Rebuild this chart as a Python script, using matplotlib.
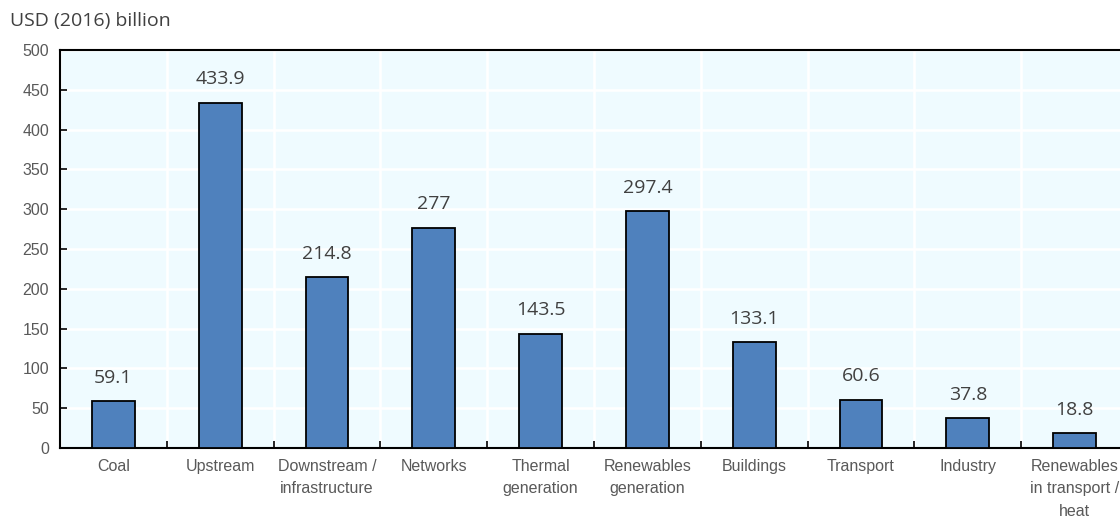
import numpy as np
import matplotlib.pyplot as plt
from matplotlib import font_manager

categories = ["Coal", "Upstream", "Downstream /\ninfrastructure", "Networks",
              "Thermal\ngeneration", "Renewables\ngeneration", "Buildings",
              "Transport", "Industry", "Renewables\nin transport /\nheat"]
values = [59.1, 433.9, 214.8, 277, 143.5, 297.4, 133.1, 60.6, 37.8, 18.8]
value_labels = ["59.1", "433.9", "214.8", "277", "143.5", "297.4", "133.1", "60.6", "37.8", "18.8"]

names = {f.name for f in font_manager.fontManager.ttflist}
narrow = "Liberation Sans Narrow" if "Liberation Sans Narrow" in names else "Liberation Sans"

fig = plt.figure(figsize=(11.2, 5.17), dpi=100)
# axes runs a little past the right edge, like the original
ax = fig.add_axes([60/1120, (517-448)/517, 1068/1120, 398/517])
ax.set_facecolor("#EFFBFF")

x = np.arange(len(categories))
ax.bar(x, values, width=0.4, color="#4F81BD", edgecolor="black", linewidth=1.3, zorder=3)

for xi, v, lab in zip(x, values, value_labels):
    ax.text(xi, v + 18, lab, ha="center", va="bottom", fontsize=14,
            color="#404040", family="Open Sans", zorder=4)

ax.set_xlim(-0.5, len(categories) - 0.5)
ax.set_ylim(0, 500)
ax.set_yticks(range(0, 501, 50))
ax.tick_params(axis="y", direction="in", length=5, width=1.2, labelsize=11.5,
               labelcolor="#595959", pad=8)
for t in ax.get_yticklabels():
    t.set_family(narrow)

ax.set_xticks(x - 0.5, minor=False)
ax.set_xticks(x, minor=True)
ax.set_xticklabels([])
ax.set_xticklabels(categories, minor=True, fontsize=11.5, color="#595959", family=narrow,
                   linespacing=1.6)
ax.tick_params(axis="x", which="major", direction="in", length=5, width=1.2)
ax.tick_params(axis="x", which="minor", length=0, pad=8)

ax.grid(True, which="major", color="white", linewidth=1.8, zorder=0)
ax.set_axisbelow(True)
for s in ["left", "bottom", "top"]:
    ax.spines[s].set_linewidth(1.5)
    ax.spines[s].set_color("black")
ax.spines["right"].set_visible(False)

fig.text(10/1120, 1 - 21/517, "USD (2016) billion", fontsize=14, color="#404040",
         family="Open Sans", va="center", ha="left")

fig.savefig("out.png", dpi=100)
